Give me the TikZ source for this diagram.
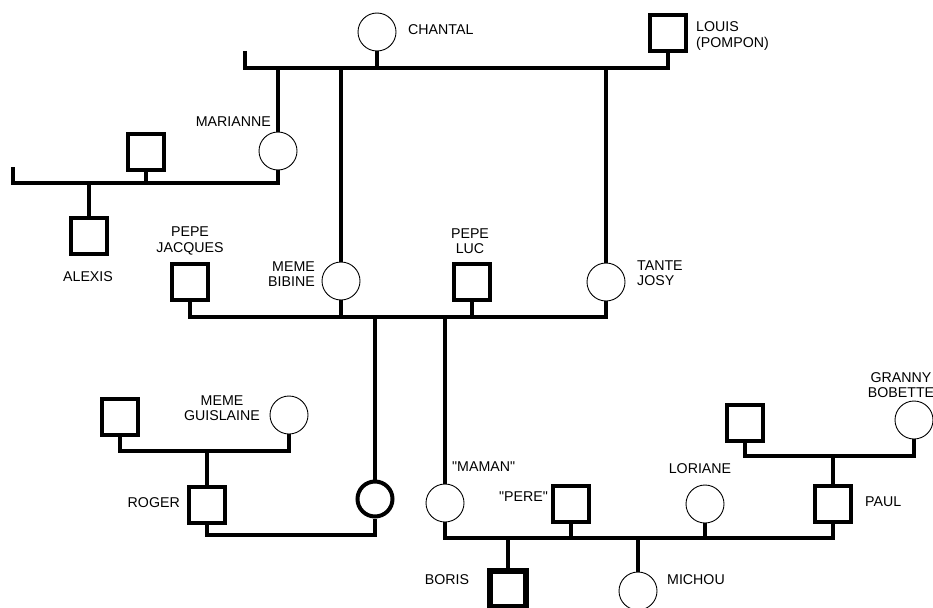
\documentclass[tikz,border=0pt]{standalone}
\usepackage{fontspec}
\setmainfont{Liberation Sans}
\newfontfamily\lsans{Liberation Sans}
\begin{document}
\begin{tikzpicture}[x=1pt,y=-1pt,
  male/.style={draw, rectangle, line width=4pt, minimum size=36pt, inner sep=0pt},
  female/.style={draw, circle, line width=0.9pt, minimum size=38pt, inner sep=0pt},
  boldfemale/.style={draw, circle, line width=4pt, minimum size=35pt, inner sep=0pt},
  boldmale/.style={draw, rectangle, line width=6pt, minimum size=36pt, inner sep=0pt},
  bar/.style={line width=4pt},
  stem/.style={line width=4.6pt},
  lbl/.style={font=\lsans\fontsize{14.2}{15.5}\selectfont, inner sep=0pt},
]
\useasboundingbox (0,0) rectangle (933,607);

% persons
\node[female] (chantal) at (377,32) {};
\node[lbl, anchor=west] (chantalL) at (408,30) {CHANTAL};
\node[male] (louis) at (668,33) {};
\node[lbl, anchor=west, align=left] (louisL) at (696,36) {LOUIS\\(POMPON)};
\node[female] (marianne) at (278,151) {};
\node[lbl, anchor=east] (marianneL) at (271,122) {MARIANNE};
\node[male] (h1) at (146,152) {};
\node[male] (alexis) at (89,236) {};
\node[lbl] (alexisL) at (88,277) {ALEXIS};
\node[male] (jacques) at (190,282) {};
\node[lbl, align=center] (jacquesL) at (190,241) {PEPE\\JACQUES};
\node[female] (bibine) at (341,281) {};
\node[lbl, anchor=east, align=right] (bibineL) at (315,274) {MEME\\BIBINE};
\node[male] (luc) at (472,282) {};
\node[lbl, align=center] (lucL) at (470,241) {PEPE\\LUC};
\node[female] (josy) at (606,282) {};
\node[lbl, anchor=west, align=left] (josyL) at (637,273) {TANTE\\JOSY};
\node[male] (rogerf) at (120,417) {};
\node[female] (guislaine) at (289,415) {};
\node[lbl, align=center] (guislaineL) at (222,408) {MEME\\GUISLAINE};
\node[male] (roger) at (207,505) {};
\node[lbl, anchor=east] (rogerL) at (180,503) {ROGER};
\node[boldfemale] (mother) at (375,499) {};
\node[female] (maman) at (445,503) {};
\node[lbl, anchor=west] (mamanL) at (452,467) {"MAMAN"};
\node[male] (pere) at (571,504) {};
\node[lbl, anchor=east] (pereL) at (548,497) {"PERE"};
\node[female] (loriane) at (705,504) {};
\node[lbl] (lorianeL) at (700,469) {LORIANE};
\node[male] (paul) at (833,504) {};
\node[lbl, anchor=west] (paulL) at (865,502) {PAUL};
\node[male] (paulf) at (745,423) {};
\node[female] (bobette) at (914,420) {};
\node[lbl, align=center] (bobetteL) at (901,385) {GRANNY\\BOBETTE};
\node[boldmale] (boris) at (508,589) {};
\node[lbl] (borisL) at (447,580) {BORIS};
\node[female] (michou) at (638,591) {};
\node[lbl, anchor=west] (michouL) at (667,580) {MICHOU};

% bar coordinates
\coordinate (tbt) at (245,51);
\coordinate (tbl) at (245,68);
\coordinate (lbt) at (13,167);
\coordinate (lbl) at (13,183);
\coordinate (mb) at (0,317);
\coordinate (rb) at (0,451);
\coordinate (cb) at (0,535);
\coordinate (bb) at (0,538);
\coordinate (pb) at (0,456);

% top family
\draw[bar] (tbt) -- (tbl) -- (tbl -| louis.south) -- (louis.south);
\draw[stem] (chantal.south) -- (chantal.south |- tbl);
\draw[bar] (marianne.north |- tbl) -- (marianne.north);
\draw[bar] (bibine.north |- tbl) -- (bibine.north);
\draw[bar] (josy.north |- tbl) -- (josy.north);

% Marianne family
\draw[bar] (lbt) -- (lbl) -- (lbl -| marianne.south) -- (marianne.south);
\draw[stem] (h1.south) -- (h1.south |- lbl);
\draw[bar] (alexis.north |- lbl) -- (alexis.north);

% middle family
\draw[bar] (jacques.south) -- (jacques.south |- mb) -- (josy.south |- mb) -- (josy.south);
\draw[stem] (bibine.south) -- (bibine.south |- mb);
\draw[stem] (luc.south) -- (luc.south |- mb);
\draw[bar] (mother.north |- mb) -- (mother.north);
\draw[bar] (maman.north |- mb) -- (maman.north);

% Roger family
\draw[bar] (rogerf.south) -- (rogerf.south |- rb) -- (guislaine.south |- rb) -- (guislaine.south);
\draw[bar] (roger.north |- rb) -- (roger.north);
\draw[bar] (roger.south) -- (roger.south |- cb) -- (mother.south |- cb) -- (mother.south);

% Paul family
\draw[bar] (paulf.south) -- (paulf.south |- pb) -- (bobette.south |- pb) -- (bobette.south);
\draw[bar] (paul.north |- pb) -- (paul.north);

% bottom family
\draw[bar] (maman.south) -- (maman.south |- bb) -- (paul.south |- bb) -- (paul.south);
\draw[stem] (pere.south) -- (pere.south |- bb);
\draw[stem] (loriane.south) -- (loriane.south |- bb);
\draw[bar] (boris.north |- bb) -- (boris.north);
\draw[bar] (michou.north |- bb) -- (michou.north);
\end{tikzpicture}
\end{document}
